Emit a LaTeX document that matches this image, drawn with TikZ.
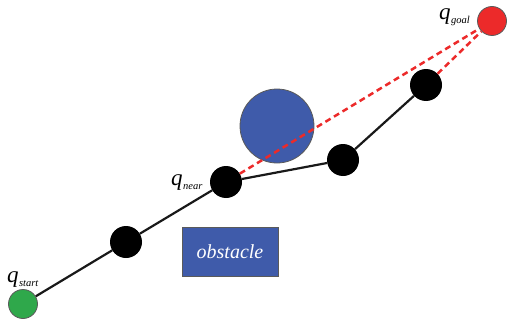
\documentclass[tikz,border=0pt]{standalone}
\usepackage{fontspec}
\setmainfont{Liberation Serif}
\usetikzlibrary{backgrounds}
\definecolor{startgreen}{HTML}{2FA84B}
\definecolor{goalred}{HTML}{EC2A2A}
\definecolor{obsblue}{HTML}{3F5BAA}
\definecolor{edgegray}{HTML}{5A5A5A}
\begin{document}
\begin{tikzpicture}[x=1pt,y=-1pt,
  treenode/.style={circle,fill=black,minimum size=32pt,inner sep=0pt},
  endnode/.style={circle,draw=edgegray,line width=0.8pt,minimum size=29pt,inner sep=0pt},
  treeedge/.style={line width=2.2pt,black!90},
  tryedge/.style={line width=2.5pt,goalred,dash pattern=on 6pt off 4pt},
  lbl/.style={inner sep=0pt,font=\fontsize{23}{25}\selectfont\itshape},
  sub/.style={inner sep=0pt,font=\fontsize{10.5}{12}\selectfont\itshape}]
\useasboundingbox (0,0) rectangle (519,321);
\node[endnode,fill=startgreen] (start) at (23,304) {};
\node[treenode] (n1) at (126,242) {};
\node[treenode] (near) at (226,182) {};
\node[treenode] (n3) at (343,160) {};
\node[treenode] (n4) at (426,85) {};
\node[endnode,fill=goalred] (goal) at (492,21) {};
\node[circle,draw=edgegray,line width=0.8pt,fill=obsblue,minimum size=74pt,inner sep=0pt] (obs) at (277,126) {};
\node[rectangle,draw=edgegray,line width=0.8pt,fill=obsblue,minimum width=96pt,minimum height=49pt,inner sep=0pt,text=white,font=\fontsize{20}{22}\selectfont\itshape] (box) at (230,251.5) {obstacle};
\begin{scope}[on background layer]
\draw[treeedge] (start) -- (n1) -- (near) -- (n3) -- (n4);
\end{scope}
\draw[tryedge] (near) -- (goal);
\draw[tryedge] (n4) -- (goal);
\node[lbl,anchor=base west] (qs) at (7,282) {q};
\node[sub,anchor=base west] (qss) at (qs.base east) [yshift=-4pt] {start};
\node[lbl,anchor=base west] (qn) at (171,185) {q};
\node[sub,anchor=base west] (qns) at (qn.base east) [yshift=-4pt] {near};
\node[lbl,anchor=base west] (qg) at (439,20) {q};
\node[sub,anchor=base west] (qgs) at (qg.base east) [yshift=-4pt] {goal};
\end{tikzpicture}
\end{document}
